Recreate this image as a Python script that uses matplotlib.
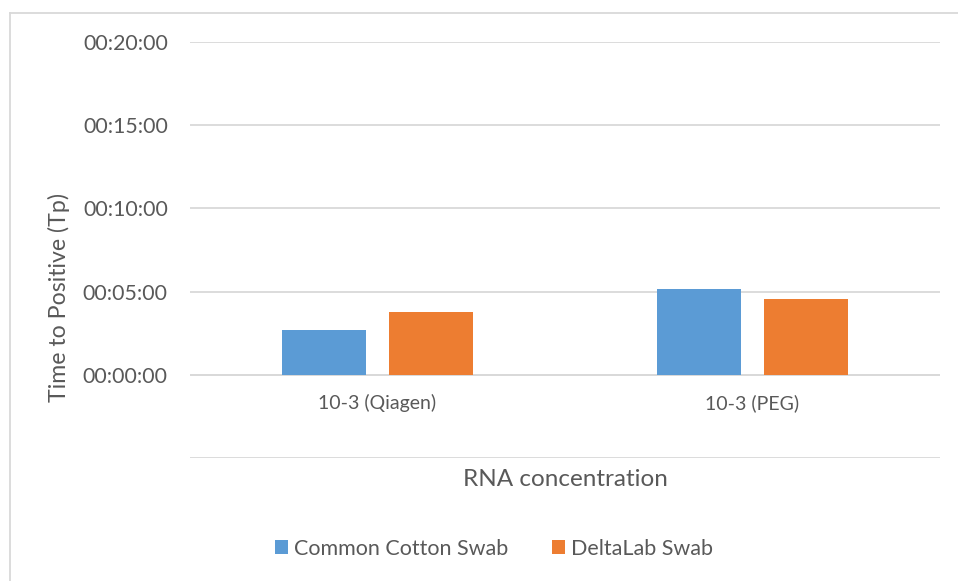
import matplotlib.pyplot as plt
from matplotlib.lines import Line2D
from matplotlib.ticker import FuncFormatter
import numpy as np

# données (minutes)
categories = ["10-3 (Qiagen)", "10-3 (PEG)"]
series_names = ["Common Cotton Swab", "DeltaLab Swab"]
cotton = [2.667, 5.167]
deltalab = [3.75, 4.583]
colors = ["#5b9bd5", "#ed7d31"]

plt.rcParams['font.family'] = ['Lato', 'DejaVu Sans']
txt = "#595959"
grid = "#d9d9d9"

fig = plt.figure(figsize=(9.58, 5.81), dpi=100)
ax = fig.add_axes([190/958, 1-458/581, 750/958, 416/581])

x = np.arange(len(categories))
w = 0.224
off = 0.1425
ax.bar(x - off, cotton, w, color=colors[0], label=series_names[0], zorder=3)
ax.bar(x + off, deltalab, w, color=colors[1], label=series_names[1], zorder=3)

ax.set_xlim(-0.5, 1.5)
ax.set_ylim(-5, 20)
ax.set_yticks([-5, 0, 5, 10, 15, 20])

def fmt(v, pos):
    if v < 0:
        return ""
    m = int(round(v))
    return "00:%02d:00" % m

ax.yaxis.set_major_formatter(FuncFormatter(fmt))
ax.grid(axis='y', color=grid, linewidth=1.3, zorder=0)
ax.axhline(0, color=grid, linewidth=1.3, zorder=1)
for s in ax.spines.values():
    s.set_visible(False)
ax.tick_params(axis='y', length=0, pad=16, labelsize=15.3, labelcolor=txt)
ax.set_xticks([])

for i, c in enumerate(categories):
    ax.text(x[i], -1.7, c, ha='center', va='center', fontsize=14, color=txt)

fig.text(59/958, 1-298/581, "Time to Positive (Tp)", rotation=90, ha='center', va='center',
         fontsize=16.7, color=txt)
fig.text(565/958, 1-479/581, "RNA concentration", ha='center', va='center', fontsize=17.5, color=txt)

fig.legend(loc='center', bbox_to_anchor=(494/958, 1-549/581), ncol=2, frameon=False,
           fontsize=15.5, labelcolor=txt, handlelength=0.62, handleheight=0.62,
           handletextpad=0.3, columnspacing=2.0)

# cadre du graphique
fig.add_artist(Line2D([10/958, 10/958], [0, 1-13/581], color=grid, linewidth=1.3))
fig.add_artist(Line2D([10/958, 1], [1-13/581, 1-13/581], color=grid, linewidth=1.3))

fig.savefig("out.png", dpi=100)
